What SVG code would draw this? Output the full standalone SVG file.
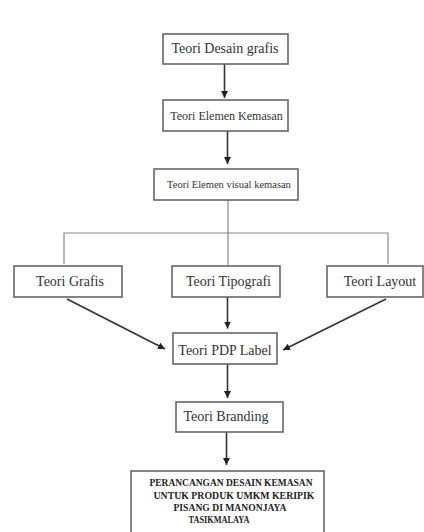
<svg xmlns="http://www.w3.org/2000/svg" width="424" height="532" viewBox="0 0 424 532">
<style>
.box{fill:#fff;stroke:#666;stroke-width:1.6}
.t{font-family:"Liberation Serif","Times New Roman",serif;fill:#333;text-anchor:middle;font-size:14px}
.f{font-family:"Liberation Serif","Times New Roman",serif;fill:#222;font-weight:bold;font-size:9.5px}
.tree{fill:none;stroke:#888;stroke-width:1.2}
.arr{fill:none;stroke:#333;stroke-width:1.6;marker-end:url(#ah)}
</style>
<defs>
<marker id="ah" markerUnits="userSpaceOnUse" markerWidth="8" markerHeight="8" refX="7" refY="3.5" orient="auto">
<path d="M0,0 L7,3.5 L0,7 z" fill="#222"/>
</marker>
</defs>
<rect width="424" height="532" fill="#fff"/>
<g id="connectors">
<path class="arr" d="M224.5,64 L224.5,98"/>
<path class="arr" d="M227.5,131 L227.5,164"/>
<path class="tree" d="M228,200 L228,265"/>
<path class="tree" d="M64,264 L64,233 L388,233 L388,264"/>
<path class="arr" d="M227.5,297 L227.5,328.5"/>
<path class="arr" d="M67,299 L165,349"/>
<path class="arr" d="M386,299 L283,350"/>
<path class="arr" d="M227.5,364 L227.5,398"/>
<path class="arr" d="M226.5,432 L226.5,465"/>
</g>
<g id="n1"><rect class="box" x="163" y="34" width="125" height="30"/><text class="t" x="225" y="52.5" font-size="13.7">Teori Desain grafis</text></g>
<g id="n2"><rect class="box" x="163" y="100" width="125" height="31"/><text class="t" x="226.5" y="119.5" style="font-size:12px">Teori Elemen Kemasan</text></g>
<g id="n3"><rect class="box" x="154" y="169" width="144" height="31"/><text class="t" x="229" y="188" style="font-size:10.5px">Teori Elemen visual kemasan</text></g>
<g id="n4"><rect class="box" x="14" y="266" width="108" height="31"/><text class="t" x="70" y="285.5">Teori Grafis</text></g>
<g id="n5"><rect class="box" x="172" y="266" width="108" height="31"/><text class="t" x="228.5" y="285.5">Teori Tipografi</text></g>
<g id="n6"><rect class="box" x="327" y="266" width="96" height="31"/><text class="t" x="380" y="285.5">Teori Layout</text></g>
<g id="n7"><rect class="box" x="173" y="333" width="104" height="31"/><text class="t" x="225" y="355">Teori PDP Label</text></g>
<g id="n8"><rect class="box" x="176" y="402" width="107" height="30"/><text class="t" x="226" y="421">Teori Branding</text></g>
<g id="n9"><rect class="box" x="131" y="471" width="193" height="75"/>
<text class="f" x="149.5" y="486" textLength="163" lengthAdjust="spacingAndGlyphs">PERANCANGAN DESAIN KEMASAN</text>
<text class="f" x="153.5" y="498.5" textLength="161" lengthAdjust="spacingAndGlyphs">UNTUK PRODUK UMKM KERIPIK</text>
<text class="f" x="173.5" y="510.5" textLength="113" lengthAdjust="spacingAndGlyphs">PISANG DI MANONJAYA</text>
<text class="f" x="188.5" y="523" textLength="61" lengthAdjust="spacingAndGlyphs">TASIKMALAYA</text>
</g>
</svg>
